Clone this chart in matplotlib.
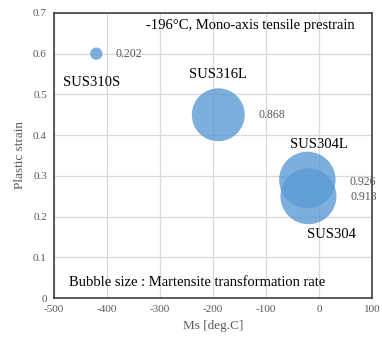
import matplotlib.pyplot as plt

names = ["SUS310S", "SUS316L", "SUS304L", "SUS304"]
ms_temp = [-420, -190, -22, -20]
strain = [0.60, 0.45, 0.29, 0.25]
mart_rate = [0.202, 0.868, 0.926, 0.918]

plt.rcParams["font.family"] = ["Liberation Serif", "DejaVu Serif"]
plt.rcParams["axes.unicode_minus"] = False

fig = plt.figure(figsize=(3.82, 3.41), dpi=100)
ax = fig.add_axes([0.141, 0.126, 0.833, 0.836])

# bubble diameter proportional to rate (~61 px per 1.0)
sizes = [(61 * 0.72 * r) ** 2 for r in mart_rate]
ax.scatter(ms_temp, strain, s=sizes, color="#5b9bd5", alpha=0.8, edgecolors="none", zorder=3)

ax.set_xlim(-500, 100)
ax.set_ylim(0, 0.7)
ax.set_xticks(range(-500, 101, 100))
ax.set_yticks([i / 10 for i in range(8)])
ax.set_yticklabels(["0"] + [f"{i / 10:.1f}" for i in range(1, 8)])
ax.grid(color="#d9d9d9", linewidth=0.9, zorder=0)
ax.set_axisbelow(True)
ax.tick_params(length=0, labelsize=8, labelcolor="#595959", pad=5)
for sp in ax.spines.values():
    sp.set_color("#404040")
    sp.set_linewidth(1.2)

ax.set_xlabel("Ms [deg.C]", fontsize=9.5, color="#595959", labelpad=4)
ax.set_ylabel("Plastic strain", fontsize=9.5, color="#595959", labelpad=5)

# material names
name_pos = [(-483, 0.53, "left"), (-190, 0.548, "center"), (0, 0.378, "center"), (23, 0.155, "center")]
for n, (x, y, ha) in zip(names, name_pos):
    ax.text(x, y, n, fontsize=10.5, ha=ha, va="center", color="black")

# rate values
val_pos = [(-383, 0.60), (-115, 0.45), (57, 0.285), (60, 0.248)]
for r, (x, y) in zip(mart_rate, val_pos):
    ax.text(x, y, f"{r:.3f}", fontsize=8.5, ha="left", va="center", color="#595959")

ax.text(-326, 0.668, "-196\u00b0C, Mono-axis tensile prestrain", fontsize=10.5, va="center")
ax.text(-472, 0.037, "Bubble size : Martensite transformation rate", fontsize=10.5, va="center")

plt.savefig("out.png", dpi=100)
